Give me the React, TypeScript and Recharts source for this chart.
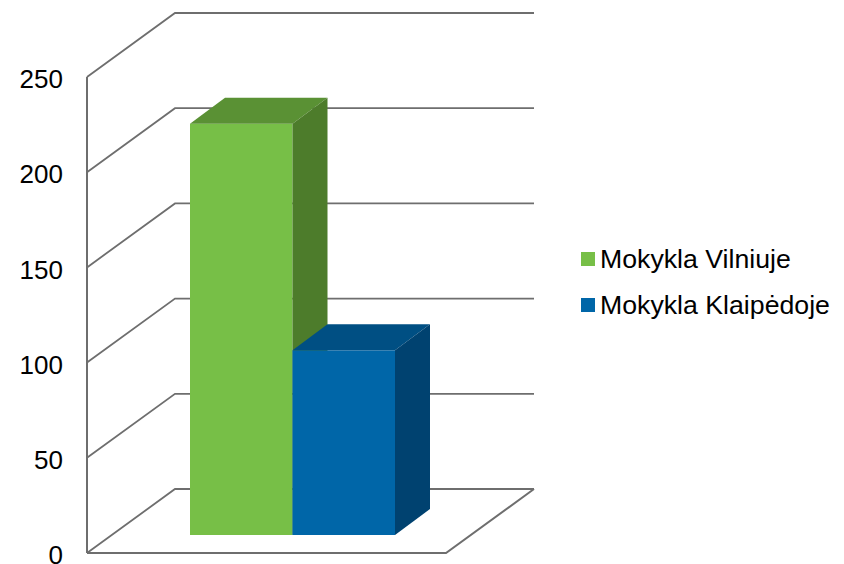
import { BarChart, Bar, CartesianGrid, Legend, XAxis, YAxis } from "recharts"

const categories = ["Mokyklos"]
const seriesNames = ["Mokykla Vilniuje", "Mokykla Klaipėdoje"]
const vilnius = [216]
const klaipeda = [97]
const yTicks = [0, 50, 100, 150, 200, 250]

const data = categories.map((name, i) => ({
  name,
  [seriesNames[0]]: vilnius[i],
  [seriesNames[1]]: klaipeda[i],
}))

const FONT = '"Liberation Sans", Arial, sans-serif'
const GRID = "#6e6e6e"

// wall depth of the fake 3D box and how far the bars sit inside it
const WALL_DX = 88
const WALL_DY = -64
const BACK_WIDTH = 359
const BAR_DX = 26
const BAR_DY = -18
const BOX_DX = 35
const BOX_DY = -26

function GridLine(props: any) {
  const { x1, y1 } = props
  const bx = x1 + WALL_DX
  const by = y1 + WALL_DY
  const isFloor = props.index === 0
  return (
    <g fill="none" stroke={GRID}>
      <path d={`M${x1} ${y1}L${bx} ${by}L${bx + BACK_WIDTH} ${by}`} strokeWidth={1.8} />
      {isFloor && (
        <path
          d={`M${x1} ${y1}L${x1 + BACK_WIDTH} ${y1}L${bx + BACK_WIDTH} ${by}`}
          strokeWidth={2}
        />
      )}
    </g>
  )
}

function Box3D({ x, y, width, height, fill, top, side }: any) {
  const l = x + BAR_DX
  const r = l + width
  const t = y + BAR_DY
  const b = t + height
  return (
    <g>
      <rect x={l} y={t} width={width} height={height} fill={fill} />
      <polygon
        points={`${l},${t} ${l + BOX_DX},${t + BOX_DY} ${r + BOX_DX},${t + BOX_DY} ${r},${t}`}
        fill={top}
      />
      <polygon
        points={`${r},${t} ${r + BOX_DX},${t + BOX_DY} ${r + BOX_DX},${b + BOX_DY} ${r},${b}`}
        fill={side}
      />
    </g>
  )
}

function LegendList({ payload }: any) {
  return (
    <div style={{ fontFamily: FONT, fontSize: 26.7, color: "#000" }}>
      {(payload || []).map((p: any) => (
        <div key={p.value} style={{ display: "flex", alignItems: "center", height: 46, whiteSpace: "nowrap" }}>
          <span style={{ width: 14, height: 14, background: p.color, marginRight: 5, display: "inline-block" }} />
          {p.value}
        </div>
      ))}
    </div>
  )
}

export default function App() {
  return (
    <div style={{ position: "absolute", left: 0, top: 0, width: 844, height: 564 }}>
      <BarChart
        width={844}
        height={564}
        data={data}
        barGap={0}
        barCategoryGap={0}
        margin={{ top: 77, right: 398, bottom: 11, left: 0 }}
      >
        <CartesianGrid vertical={false} horizontal={(p: any) => <GridLine key={p.index} {...p} />} />
        <XAxis dataKey="name" hide />
        <YAxis
          width={87}
          domain={[0, 250]}
          ticks={yTicks}
          interval={0}
          tickLine={false}
          tickSize={0}
          tickMargin={24}
          axisLine={{ stroke: GRID, strokeWidth: 2 }}
          tick={{ fill: "#000", fontSize: 26, fontFamily: FONT, dy: 2 }}
        />
        <Legend
          layout="vertical"
          align="center"
          verticalAlign="middle"
          itemSorter={null}
          wrapperStyle={{ left: 581, top: 236, width: 263, right: "auto" }}
          content={<LegendList />}
        />
        <Bar
          dataKey={seriesNames[0]}
          barSize={102.5}
          fill="#77bf47"
          isAnimationActive={false}
          shape={(p: any) => <Box3D {...p} top="#5a9134" side="#4d7c2b" />}
        />
        <Bar
          dataKey={seriesNames[1]}
          barSize={102.5}
          fill="#0066a8"
          isAnimationActive={false}
          shape={(p: any) => <Box3D {...p} top="#004f83" side="#004270" />}
        />
      </BarChart>
    </div>
  )
}
